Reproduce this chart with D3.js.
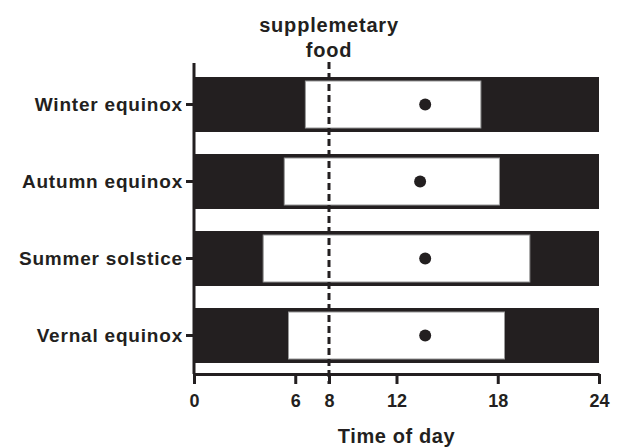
<!DOCTYPE html>
<html lang="en">
<head>
    <meta charset="UTF-8">
    <title>Light phase by season</title>
    <script src="https://d3js.org/d3.v7.min.js"></script>
    <style>
        body { margin: 0; background: #fff; }
        text { font-family: "Liberation Sans", Arial, sans-serif; fill: #231f20; }
    </style>
</head>
<body>
    <svg width="618" height="448"></svg>

    <script>
        // Seasons, light-on / light-off hours and activity peak
        const seasons = ["Winter equinox", "Autumn equinox", "Summer solstice", "Vernal equinox"];
        const lightOn = [6.6, 5.35, 4.1, 5.6];
        const lightOff = [17.0, 18.1, 19.9, 18.4];
        const peak = [13.7, 13.4, 13.7, 13.7];
        const hourTicks = [0, 6, 8, 12, 18, 24];
        const foodTime = 8;

        const dark = "#231f20";
        const svg = d3.select("svg");

        const x = d3.scaleLinear().domain([0, 24]).range([194, 599]);
        const y = d3.scaleBand()
            .domain(seasons)
            .range([66, 374])
            .paddingInner(0.286)
            .paddingOuter(0.143);

        const rows = seasons.map((s, i) => ({ season: s, on: lightOn[i], off: lightOff[i], peak: peak[i] }));

        // Dark background bar (whole day)
        svg.selectAll("rect.night")
            .data(rows)
            .enter().append("rect")
            .attr("class", "night")
            .attr("x", x(0))
            .attr("y", d => y(d.season))
            .attr("width", x(24) - x(0))
            .attr("height", y.bandwidth())
            .attr("fill", dark);

        // Light phase
        const inset = 4;
        svg.selectAll("rect.day")
            .data(rows)
            .enter().append("rect")
            .attr("class", "day")
            .attr("x", d => x(d.on))
            .attr("y", d => y(d.season) + inset)
            .attr("width", d => x(d.off) - x(d.on))
            .attr("height", y.bandwidth() - 2 * inset)
            .attr("fill", "#fff")
            .attr("stroke", "#999")
            .attr("stroke-width", 1);

        // Activity peak
        svg.selectAll("circle.peak")
            .data(rows)
            .enter().append("circle")
            .attr("class", "peak")
            .attr("cx", d => x(d.peak))
            .attr("cy", d => y(d.season) + y.bandwidth() / 2)
            .attr("r", 6)
            .attr("fill", dark);

        // Axes
        const xAxis = svg.append("g")
            .attr("transform", "translate(0,374)")
            .call(d3.axisBottom(x).tickValues(hourTicks).tickSize(10).tickSizeOuter(0).tickPadding(10));

        const yAxis = svg.append("g")
            .attr("transform", "translate(194,0)")
            .call(d3.axisLeft(y).tickSize(8).tickSizeOuter(0).tickPadding(3));

        [xAxis, yAxis].forEach(g => {
            g.select(".domain").attr("stroke", dark).attr("stroke-width", 3);
            g.selectAll(".tick line").attr("stroke", dark).attr("stroke-width", 3);
        });
        yAxis.select(".domain").attr("d", "M0,63V374");

        xAxis.selectAll("text")
            .attr("fill", dark)
            .style("font-size", "18px")
            .style("font-weight", "bold");

        yAxis.selectAll("text")
            .attr("fill", dark)
            .style("font-size", "19px")
            .style("font-weight", "bold")
            .style("letter-spacing", "0.8px");

        // Supplementary food time
        svg.append("line")
            .attr("x1", x(foodTime)).attr("x2", x(foodTime))
            .attr("y1", 62).attr("y2", 384)
            .attr("stroke", dark)
            .attr("stroke-width", 3)
            .attr("stroke-dasharray", "7,4");

        svg.append("text")
            .attr("x", x(foodTime))
            .attr("y", 32)
            .attr("text-anchor", "middle")
            .style("font-size", "20px")
            .style("font-weight", "bold")
            .style("letter-spacing", "0.8px")
            .text("supplemetary");

        svg.append("text")
            .attr("x", x(foodTime))
            .attr("y", 57)
            .attr("text-anchor", "middle")
            .style("font-size", "20px")
            .style("font-weight", "bold")
            .style("letter-spacing", "0.8px")
            .text("food");

        svg.append("text")
            .attr("x", (x(0) + x(24)) / 2)
            .attr("y", 443)
            .attr("text-anchor", "middle")
            .style("font-size", "20px")
            .style("font-weight", "bold")
            .style("letter-spacing", "0.6px")
            .text("Time of day");
    </script>
</body>
</html>
